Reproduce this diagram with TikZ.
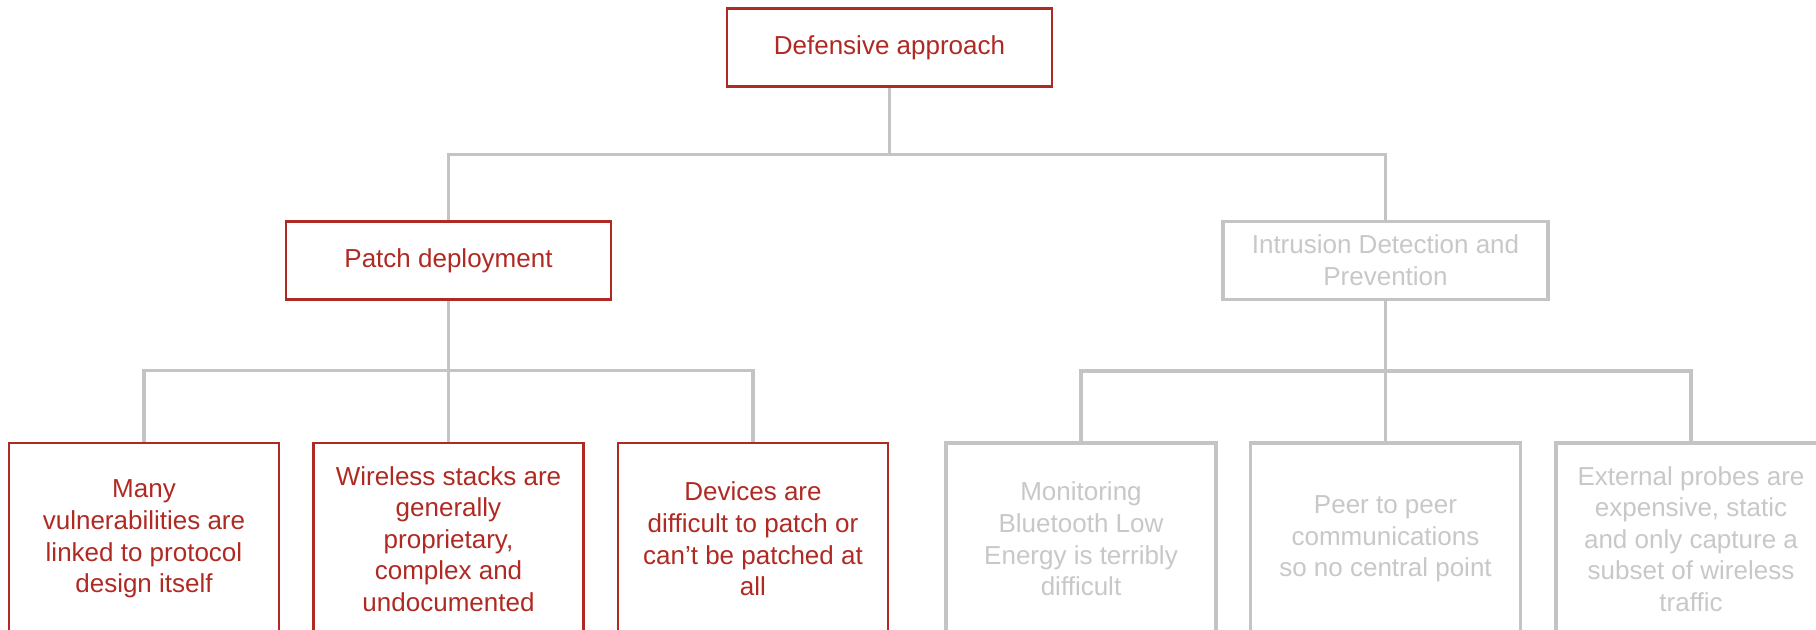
\documentclass[tikz,border=0pt]{standalone}
\usepackage{fontspec}
\setmainfont{Liberation Sans}
\usepackage{xcolor}
\definecolor{defred}{RGB}{176,42,36}
\definecolor{defgray}{RGB}{196,196,196}
\definecolor{deftext}{RGB}{200,200,200}
\usetikzlibrary{positioning}

\begin{document}
\begin{tikzpicture}[x=0.5pt, y=-0.5pt,
    box/.style={draw, fill=white, line width=1.4pt, align=center,
                inner sep=0pt, font=\fontsize{13}{15.8}\selectfont},
    active/.style={box, draw=defred, text=defred},
    muted/.style={box, draw=defgray, text=deftext, line width=1.6pt},
    head/.style={minimum width=162.5pt, minimum height=39pt},
    leaf/.style={minimum width=135pt, minimum height=96pt},
    link/.style={defgray, line width=1.6pt}
  ]
    \useasboundingbox (0,0) rectangle (1816,630);
    \clip (0,0) rectangle (1816,630);

    % Root
    \node[active, head] (root) at (889.5, 47.5) {Defensive approach};

    % Second level
    \node[active, head] (patch) at (448.5, 260.5) {Patch deployment};
    \node[muted, head] (ids) at (1385.5, 260.5)
      {Intrusion Detection and\\Prevention};

    % Patch deployment leaves
    \node[active, leaf] (vuln) at (144, 539)
      {Many\\vulnerabilities are\\linked to protocol\\design itself};
    \node[active, leaf] (stacks) at (448.5, 539)
      {Wireless stacks are\\generally\\proprietary,\\complex and\\undocumented};
    \node[active, leaf] (devices) at (753, 539)
      {Devices are\\difficult to patch or\\can’t be patched at\\all};

    % Intrusion detection leaves
    \node[muted, leaf] (monitor) at (1081, 539)
      {Monitoring\\Bluetooth Low\\Energy is terribly\\difficult};
    \node[muted, leaf] (peer) at (1385.5, 539)
      {Peer to peer\\communications\\so no central point};
    \node[muted, leaf] (probes) at (1691, 539)
      {External probes are\\expensive, static\\and only capture a\\subset of wireless\\traffic};

    % Connectors
    \draw[link] (root.south) -- ++(0,67) -| (patch.north);
    \draw[link] (root.south) -- ++(0,67) -| (ids.north);
    \foreach \leaf in {vuln, stacks, devices}
      \draw[link] (patch.south) -- ++(0,70) -| (\leaf.north);
    \foreach \leaf in {monitor, peer, probes}
      \draw[link] (ids.south) -- ++(0,70) -| (\leaf.north);
  \end{tikzpicture}
\end{document}
